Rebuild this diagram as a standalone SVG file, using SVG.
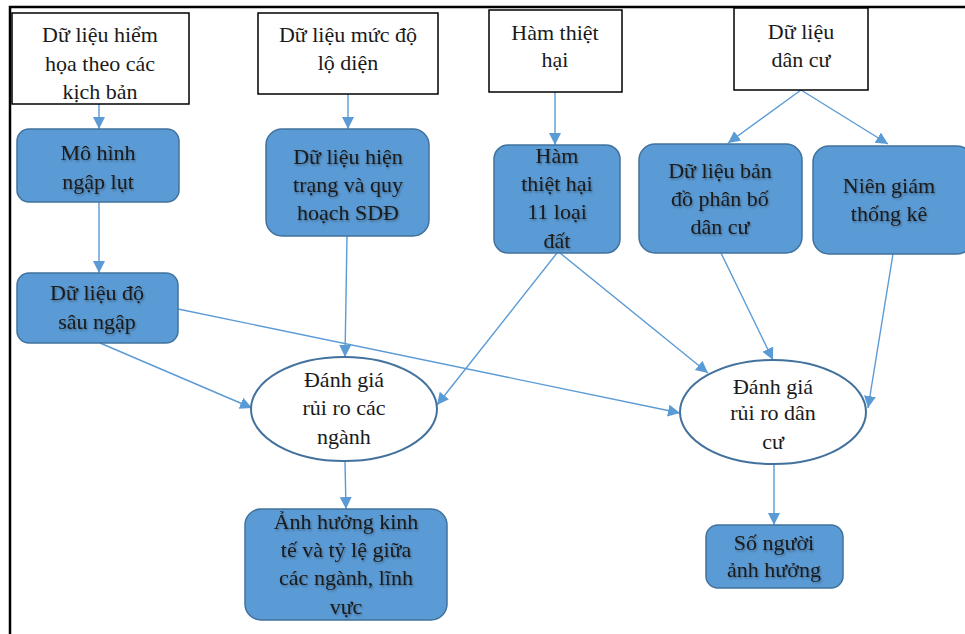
<svg xmlns="http://www.w3.org/2000/svg" width="965" height="634" viewBox="0 0 965 634">
<style>
text{font-family:"Liberation Serif","Times New Roman",serif;font-size:22px;fill:#1a1a1a;text-anchor:middle}
.w{fill:#fff;stroke:#000;stroke-width:1.5}
.b{fill:#5b9bd5;stroke:#41719c;stroke-width:1.5}
.e{fill:#fff;stroke:#41719c;stroke-width:2}
.c{fill:none;stroke:#5b9bd5;stroke-width:1.4}
.bt{filter:url(#sh)}
</style>
<defs>
<marker id="a" markerUnits="userSpaceOnUse" markerWidth="14" markerHeight="14" refX="12" refY="6" orient="auto">
<path d="M0,0 L12,6 L0,12 Z" fill="#5b9bd5"/>
</marker>
<filter id="sh" x="-10%" y="-10%" width="120%" height="130%">
<feDropShadow dx="1" dy="1.5" stdDeviation="0.8" flood-color="#000" flood-opacity="0.35"/>
</filter>
</defs>
<rect x="0" y="0" width="965" height="634" fill="#fff"/>
<path d="M10,634 V7 H965" fill="none" stroke="#000" stroke-width="2.5"/>

<g id="connectors">
<line class="c" x1="99" y1="104" x2="99" y2="129" marker-end="url(#a)"/>
<line class="c" x1="348" y1="94" x2="348" y2="129" marker-end="url(#a)"/>
<line class="c" x1="555" y1="92" x2="555" y2="145" marker-end="url(#a)"/>
<line class="c" x1="801" y1="90" x2="728" y2="143" marker-end="url(#a)"/>
<line class="c" x1="801" y1="90" x2="888" y2="144" marker-end="url(#a)"/>
<line class="c" x1="99" y1="202" x2="99" y2="273" marker-end="url(#a)"/>
<line class="c" x1="347" y1="236" x2="345" y2="357" marker-end="url(#a)"/>
<line class="c" x1="100" y1="343" x2="252" y2="408" marker-end="url(#a)"/>
<line class="c" x1="178" y1="309" x2="680" y2="413" marker-end="url(#a)"/>
<line class="c" x1="557" y1="253" x2="437" y2="405" marker-end="url(#a)"/>
<line class="c" x1="560" y1="253" x2="708" y2="373" marker-end="url(#a)"/>
<line class="c" x1="721" y1="253" x2="773" y2="360" marker-end="url(#a)"/>
<line class="c" x1="893" y1="254" x2="868" y2="408" marker-end="url(#a)"/>
<line class="c" x1="345" y1="462" x2="346" y2="509" marker-end="url(#a)"/>
<line class="c" x1="774" y1="464" x2="774" y2="525" marker-end="url(#a)"/>
</g>

<g id="n1"><rect class="w" x="12" y="13" width="177" height="91"/>
<text x="100" y="42">Dữ liệu hiểm</text><text x="100" y="71">họa theo các</text><text x="100" y="99">kịch bản</text></g>
<g id="n2"><rect class="w" x="258" y="13" width="180" height="81"/>
<text x="348" y="42">Dữ liệu mức độ</text><text x="348" y="70">lộ diện</text></g>
<g id="n3"><rect class="w" x="489" y="10" width="133" height="82"/>
<text x="555" y="40">Hàm thiệt</text><text x="555" y="67">hại</text></g>
<g id="n4"><rect class="w" x="734" y="8" width="134" height="82"/>
<text x="801" y="39">Dữ liệu</text><text x="801" y="67">dân cư</text></g>

<g id="n5"><rect class="b" x="17" y="129" width="162" height="73" rx="12"/>
<g class="bt"><text x="98" y="160">Mô hình</text><text x="98" y="189">ngập lụt</text></g></g>
<g id="n6"><rect class="b" x="266" y="129" width="163" height="107" rx="16"/>
<g class="bt"><text x="348" y="164">Dữ liệu hiện</text><text x="348" y="192">trạng và quy</text><text x="348" y="220">hoạch SDĐ</text></g></g>
<g id="n7"><rect class="b" x="494" y="145" width="126" height="108" rx="14"/>
<g class="bt"><text x="557" y="163">Hàm</text><text x="557" y="191">thiệt hại</text><text x="557" y="219">11 loại</text><text x="557" y="248">đất</text></g></g>
<g id="n8"><rect class="b" x="639" y="144" width="163" height="109" rx="16"/>
<g class="bt"><text x="720" y="178">Dữ liệu bản</text><text x="720" y="206">đồ phân bố</text><text x="720" y="234">dân cư</text></g></g>
<g id="n9"><rect class="b" x="813" y="146" width="160" height="108" rx="16"/>
<g class="bt"><text x="889" y="193">Niên giám</text><text x="889" y="221">thống kê</text></g></g>
<g id="n10"><rect class="b" x="17" y="273" width="161" height="70" rx="12"/>
<g class="bt"><text x="97" y="300">Dữ liệu độ</text><text x="97" y="329">sâu ngập</text></g></g>

<g id="n11"><ellipse class="e" cx="344" cy="409" rx="93" ry="52"/>
<text x="344" y="387">Đánh giá</text><text x="344" y="415">rủi ro các</text><text x="344" y="444">ngành</text></g>
<g id="n12"><ellipse class="e" cx="773" cy="412" rx="93" ry="52"/>
<text x="773" y="394">Đánh giá</text><text x="773" y="420">rủi ro dân</text><text x="773" y="449">cư</text></g>

<g id="n13"><rect class="b" x="245" y="509" width="202" height="111" rx="16"/>
<g class="bt"><text x="346" y="529">Ảnh hưởng kinh</text><text x="346" y="557">tế và tỷ lệ giữa</text><text x="346" y="585">các ngành, lĩnh</text><text x="346" y="614">vực</text></g></g>
<g id="n14"><rect class="b" x="706" y="525" width="137" height="63" rx="12"/>
<g class="bt"><text x="774" y="550">Số người</text><text x="774" y="577">ảnh hưởng</text></g></g>
</svg>
